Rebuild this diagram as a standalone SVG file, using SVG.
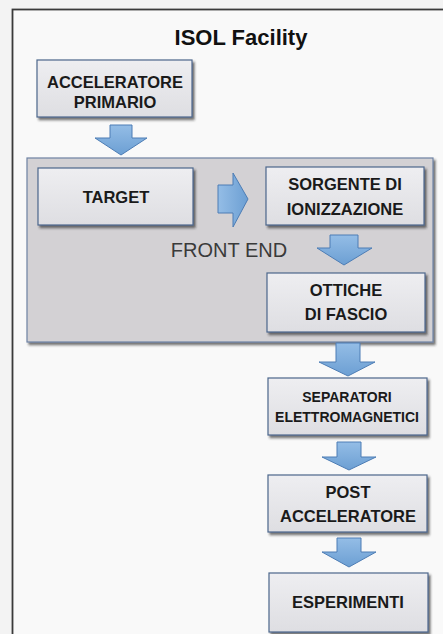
<svg xmlns="http://www.w3.org/2000/svg" width="443" height="634" viewBox="0 0 443 634">
<defs>
<linearGradient id="boxg" x1="0" y1="0" x2="0" y2="1">
<stop offset="0" stop-color="#eeeef1"/>
<stop offset="1" stop-color="#dedee2"/>
</linearGradient>
<linearGradient id="arrg" x1="0" y1="0" x2="0" y2="1">
<stop offset="0" stop-color="#94bde6"/>
<stop offset="1" stop-color="#6c9fd3"/>
</linearGradient>
<linearGradient id="arrh" x1="0" y1="0" x2="1" y2="0">
<stop offset="0" stop-color="#94bde6"/>
<stop offset="1" stop-color="#6c9fd3"/>
</linearGradient>
<filter id="sh" x="-10%" y="-10%" width="130%" height="140%">
<feDropShadow dx="2" dy="2.5" stdDeviation="1.2" flood-color="#222" flood-opacity="0.65"/>
</filter>
</defs>
<style>
.box{fill:url(#boxg);stroke:#4d678c;stroke-width:1.2;filter:url(#sh)}
.fe{fill:#d3d1d4;stroke:#6f82a3;stroke-width:1.2;filter:url(#sh)}
.arr{fill:url(#arrg);stroke:#4d7db5;stroke-width:1}
.arrh{fill:url(#arrh);stroke:#4d7db5;stroke-width:1}
.t{font-family:"Liberation Sans",Arial,sans-serif;font-weight:bold;font-size:16.5px;fill:#1a1a1a;text-anchor:middle}
.t.s{font-size:14px}
</style>
<rect x="0" y="0" width="443" height="634" fill="#f3f3f3"/>
<rect x="12.5" y="9.5" width="440" height="640" fill="#f9f9f9" stroke="#3a3a3a" stroke-width="1.8"/>
<text x="241" y="45" font-family="'Liberation Sans',Arial,sans-serif" font-weight="bold" font-size="22" fill="#111" text-anchor="middle">ISOL Facility</text>

<g id="frontend">
<rect class="fe" x="27" y="158" width="406" height="184"/>
<text x="229" y="257" font-family="'Liberation Sans',Arial,sans-serif" font-size="20" fill="#3a3a3a" text-anchor="middle">FRONT END</text>
</g>

<g id="connectors">
<path class="arr" d="M110,125 H132 V138 H147 L121,155 L95,138 H110 Z"/>
<path class="arrh" d="M218,185 H233 V173 L248,199 L233,227 V213 H218 Z"/>
<path class="arr" d="M330,235 H358 V248 H372 L344,265 L317,248 H330 Z"/>
<path class="arr" d="M336,343 H360 V362 H375 L348,376 L319,362 H336 Z"/>
<path class="arr" d="M337,442 H361 V457 H376 L349,470 L322,457 H337 Z"/>
<path class="arr" d="M337,538 H361 V552 H376 L349,567 L322,552 H337 Z"/>
</g>

<g id="acceleratore-primario">
<rect class="box" x="37" y="60" width="155" height="57"/>
<text class="t" x="115" y="88">ACCELERATORE</text>
<text class="t" x="115" y="108">PRIMARIO</text>
</g>
<g id="target">
<rect class="box" x="38" y="168" width="155" height="57"/>
<text class="t" x="116" y="203">TARGET</text>
</g>
<g id="sorgente">
<rect class="box" x="266" y="167" width="158" height="58"/>
<text class="t" x="345" y="190">SORGENTE DI</text>
<text class="t" x="345" y="215">IONIZZAZIONE</text>
</g>
<g id="ottiche">
<rect class="box" x="267" y="273" width="158" height="59"/>
<text class="t" x="346" y="296">OTTICHE</text>
<text class="t" x="346" y="320">DI FASCIO</text>
</g>
<g id="separatori">
<rect class="box" x="268" y="378" width="159" height="57"/>
<text class="t s" x="347" y="402">SEPARATORI</text>
<text class="t s" x="347" y="422">ELETTROMAGNETICI</text>
</g>
<g id="post-acceleratore">
<rect class="box" x="268" y="475" width="159" height="57"/>
<text class="t" x="348" y="498">POST</text>
<text class="t" x="348" y="522">ACCELERATORE</text>
</g>
<g id="esperimenti">
<rect class="box" x="269" y="573" width="159" height="59"/>
<text class="t" x="348" y="608">ESPERIMENTI</text>
</g>
</svg>
